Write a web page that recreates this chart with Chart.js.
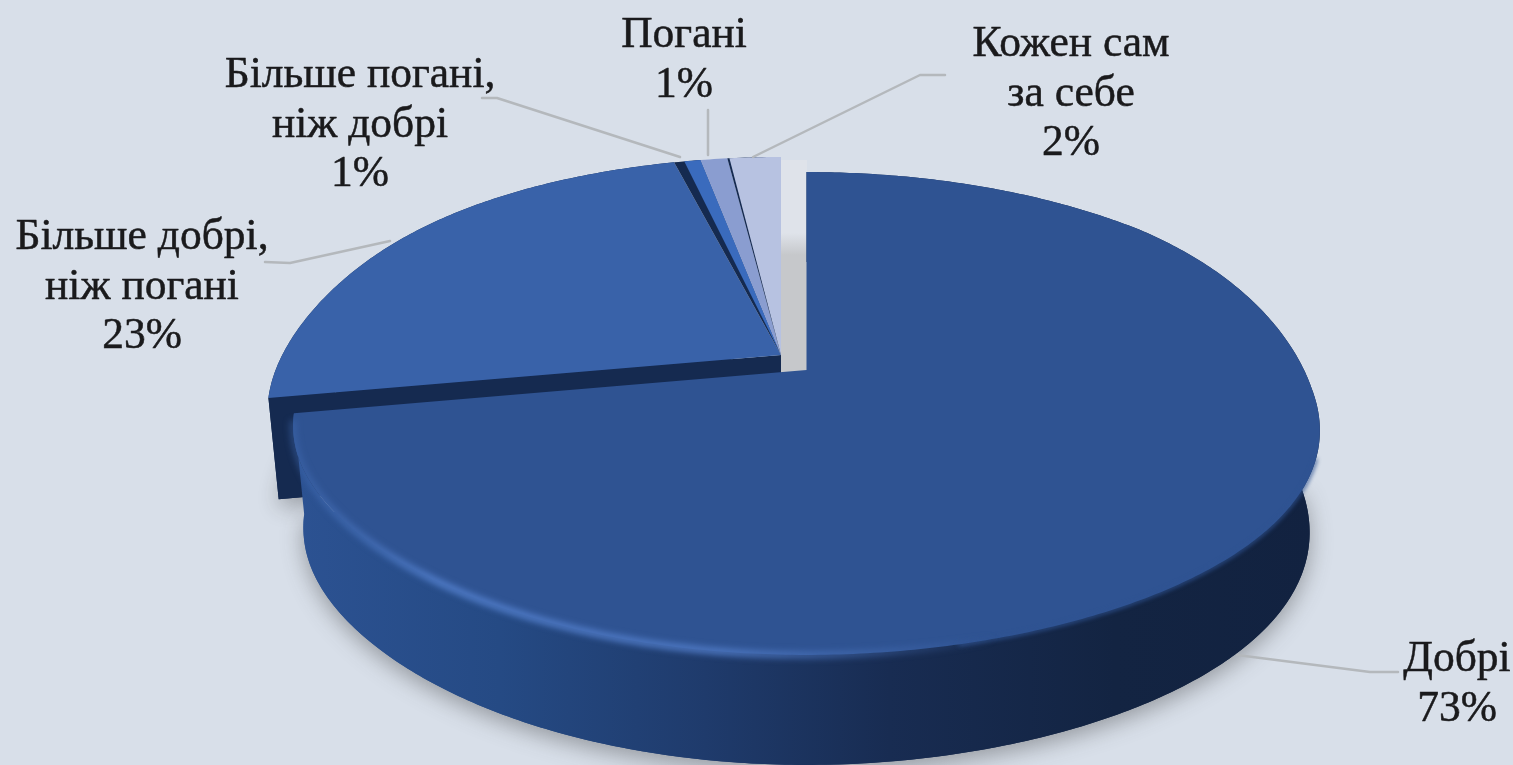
<!DOCTYPE html>
<html lang="uk">
<head>
<meta charset="utf-8">
<title>Pie</title>
<script src="https://cdn.jsdelivr.net/npm/chart.js@4"></script>
<style>
  html, body { margin: 0; padding: 0; background: #d8dfe9; overflow: hidden; }
  canvas { display: block; }
</style>
</head>
<body>
<canvas id="pieChart" width="1513" height="765"></canvas>
<script>
const categories = [
  ['Добрі'],
  ['Більше добрі,', 'ніж погані'],
  ['Більше погані,', 'ніж добрі'],
  ['Погані'],
  ['Кожен сам', 'за себе'],
];
const values = [73, 23, 1, 1, 2];
const sliceColors = ['#2f5392', '#3962a9', '#3a6bbd', '#8a9dd0', '#b7c2e1'];
const explode = [34, 0, 0, 0, 0];

// label anchor (centre x, first line y) and leader line for each slice
const labelBoxes = [
  { x: 1457, y: 660, line: [[1237, 655], [1370, 672], [1398, 672]] },
  { x: 142, y: 238, line: [[265, 262], [290, 263], [390, 241]] },
  { x: 360, y: 76, line: [[482, 98], [497, 98], [680, 157]] },
  { x: 684, y: 36, line: [[708, 110], [708, 155]] },
  { x: 1071, y: 45, line: [[945, 75], [920, 75], [753, 157]] },
];

const view = { squash: 0.4626, persp: 0.18, depth: 100, depthFront: 0.1, shrink: 0.02, dropY: 1.445, leanL: 14, leanR: 18 };
const edgeInset = [0, 0, 0.024, 0, 0.005];
const edgeColor = '#152a50';

function project(arc, dx, dy, angle, r, z) {
  const R = arc.outerRadius;
  const u = r * Math.cos(angle);
  const v = r * Math.sin(angle);
  const s = 1 / (1 - view.persp * v);
  const backFade = Math.min(1, Math.max(0, 1 + v * 1.5));
  const lean = u < 0
    ? view.leanL * Math.pow(u, 8)
    : view.leanR * Math.pow(u, 3) * backFade;
  return [
    arc.x + R * (dx + u * s * (1 - view.shrink * z)),
    arc.y + R * view.squash * (dy + v * s) + view.depth * z * (1 + view.depthFront * v) + lean,
  ];
}

function arcPoints(arc, dx, dy, from, to, z) {
  const pts = [];
  const steps = Math.max(2, Math.ceil(Math.abs(to - from) * 90));
  for (let i = 0; i <= steps; i++) {
    pts.push(project(arc, dx, dy, from + (to - from) * i / steps, 1, z));
  }
  return pts;
}

function tracePoly(ctx, pts) {
  ctx.beginPath();
  pts.forEach((p, i) => (i ? ctx.lineTo(p[0], p[1]) : ctx.moveTo(p[0], p[1])));
}

function fillPoly(ctx, pts, fill) {
  tracePoly(ctx, pts);
  ctx.closePath();
  ctx.fillStyle = fill;
  ctx.fill();
}

function sideGradient(ctx) {
  const g = ctx.createLinearGradient(295, 0, 1320, 0);
  g.addColorStop(0, '#2c5292');
  g.addColorStop(0.2, '#254a84');
  g.addColorStop(0.4, '#1f3b6c');
  g.addColorStop(0.58, '#182c52');
  g.addColorStop(0.8, '#132442');
  g.addColorStop(1, '#122240');
  return g;
}

function drawSlice(ctx, el, index, color) {
  const arc = el.getProps(['x', 'y', 'startAngle', 'endAngle', 'outerRadius'], true);
  const R = arc.outerRadius;
  const mid = (arc.startAngle + arc.endAngle) / 2;
  const off = (el.options.offset || 0) / R;
  const dx = off * Math.cos(mid);
  const dy = off * Math.sin(mid) * view.dropY;
  const { startAngle: a0, endAngle: a1 } = arc;
  const apexTop = project(arc, dx, dy, 0, 0, 0);
  const apexBot = project(arc, dx, dy, 0, 0, 1);
  const top = arcPoints(arc, dx, dy, a0, a1, 0);
  const bot = arcPoints(arc, dx, dy, a0, a1, 1);
  const wallFill = index === 0 ? sideGradient(ctx) : edgeColor;

  // side wall and cut faces, with the soft shadow on the background
  if (index < 2) {
    const shadowPts = index === 0 ? arcPoints(arc, dx, dy, 0, a1, 1) : bot;
    ctx.save();
    ctx.shadowColor = 'rgba(40,40,40,0.38)';
    ctx.shadowBlur = 22;
    ctx.shadowOffsetY = 7;
    fillPoly(ctx, [apexBot, ...shadowPts], wallFill);
    ctx.restore();
    fillPoly(ctx, top.concat(bot.slice().reverse()), wallFill);
    if (index === 1) {
      fillPoly(ctx, [apexTop, top[0], bot[0], apexBot], edgeColor);
    }
  }

  // top face
  if (edgeInset[index]) fillPoly(ctx, [apexTop, ...top], edgeColor);
  const face = arcPoints(arc, dx, dy, a0 + edgeInset[index], a1, 0);
  fillPoly(ctx, [apexTop, ...face], color);

  // bevel highlight along the front rim, soft edge on the dark right side
  if (index === 0) {
    const soft = arcPoints(arc, dx, dy, 0.3, Math.PI * 0.42, 0);
    ctx.save();
    ctx.filter = 'blur(2px)';
    tracePoly(ctx, soft);
    ctx.strokeStyle = color;
    ctx.lineWidth = 3;
    ctx.stroke();
    ctx.restore();

    const rim = arcPoints(arc, dx, dy, Math.PI * 0.4, Math.PI * 0.95, 0);
    const g = ctx.createLinearGradient(295, 0, 1000, 0);
    g.addColorStop(0, 'rgba(66,108,180,0.45)');
    g.addColorStop(0.2, 'rgba(80,124,200,1)');
    g.addColorStop(0.6, 'rgba(78,120,194,1)');
    g.addColorStop(1, 'rgba(72,112,184,0)');
    ctx.save();
    ctx.filter = 'blur(3px)';
    tracePoly(ctx, rim);
    ctx.strokeStyle = g;
    ctx.lineWidth = 7;
    ctx.stroke();
    ctx.restore();
  }
}

const pie3d = {
  id: 'pie3d',
  beforeDatasetsDraw(chart) {
    const ctx = chart.ctx;
    const arcs = chart.getDatasetMeta(0).data;
    const colors = chart.data.datasets[0].backgroundColor;

    // grey shade in the gap left by the pulled out slice, lighter above it
    const base = arcs[1].getProps(['x', 'y', 'outerRadius'], true);
    ctx.fillStyle = '#dfe3ea';
    ctx.fillRect(base.x, base.y - 195, 26, 120);
    const gap = ctx.createLinearGradient(0, base.y - 122, 0, base.y - 100);
    gap.addColorStop(0, '#dfe3ea');
    gap.addColorStop(1, '#c6c8cb');
    ctx.fillStyle = gap;
    ctx.fillRect(base.x, base.y - 122, 26, 140);

    [1, 2, 3, 4, 0].forEach(i => drawSlice(ctx, arcs[i], i, colors[i]));
    return false;
  },
  afterDraw(chart) {
    const ctx = chart.ctx;
    ctx.save();
    ctx.lineCap = 'round';
    ctx.lineJoin = 'round';
    labelBoxes.forEach((box, i) => {
      tracePoly(ctx, box.line);
      ctx.strokeStyle = '#b4b8bc';
      ctx.lineWidth = 2.5;
      ctx.stroke();

      ctx.font = '43.5px "Liberation Serif"';
      ctx.fillStyle = '#1a1a1c';
      ctx.strokeStyle = '#1a1a1c';
      ctx.lineWidth = 0.5;
      ctx.textAlign = 'center';
      ctx.textBaseline = 'middle';
      [...categories[i], values[i] + '%'].forEach((text, n) => {
        ctx.fillText(text, box.x, box.y + n * 49.5);
        ctx.strokeText(text, box.x, box.y + n * 49.5);
      });
    });
    ctx.restore();
  },
};

new Chart(document.getElementById('pieChart'), {
  type: 'pie',
  data: {
    labels: categories,
    datasets: [
      {
        data: values,
        backgroundColor: sliceColors,
        offset: explode,
        borderWidth: 0,
        radius: 505,
      },
    ],
  },
  options: {
    responsive: false,
    animation: false,
    layout: { padding: { left: 49, bottom: 55 } },
    plugins: {
      legend: { display: false },
      tooltip: { enabled: false },
    },
  },
  plugins: [pie3d],
});
</script>
</body>
</html>
